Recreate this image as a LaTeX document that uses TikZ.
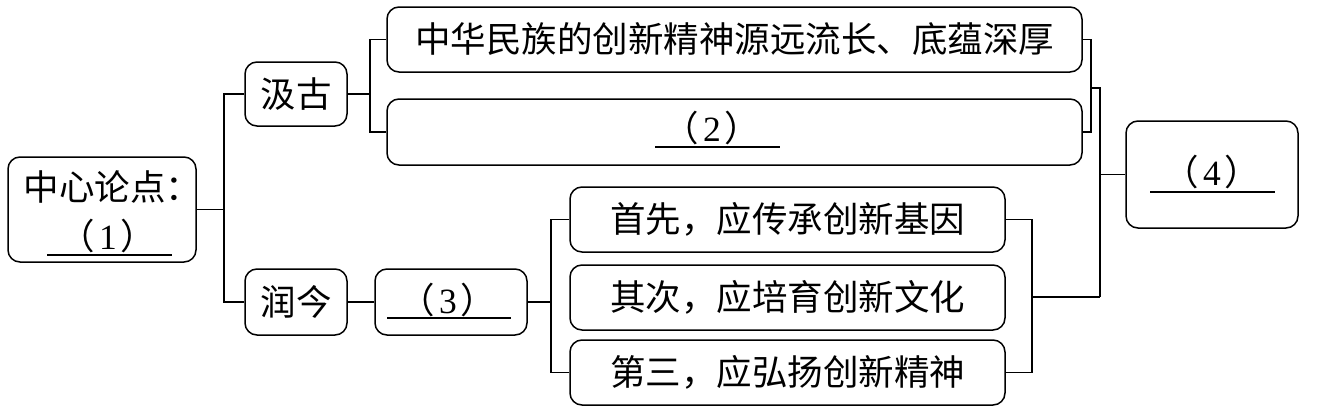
\documentclass[tikz,border=0pt]{standalone}
\usepackage{fontspec}
\setmainfont{Noto Sans CJK SC}
\newfontfamily\numfont{Liberation Serif}
\def \bnum #1{（\hspace{4pt}{\numfont #1}\hspace{4pt}）}

\begin{document}
\begin{tikzpicture}[x=1pt,y=-1pt,
    box/.style={draw, rounded corners=12pt, line width=1.5pt, inner sep=0pt},
    link/.style={line width=1.5pt},
    blank/.style={line width=1.3pt},
    font=\fontsize{35.5}{40}\selectfont]
\useasboundingbox (0,0) rectangle (1317,410);
%\draw [help lines,step=50] (0,0) grid (1317,410);
% boxes
\node [box, minimum width=188pt, minimum height=105pt] (center) at (102,209.5) {};
\node [anchor=west] (ctext) at (20,187) {中心论点：};
\node (c1) at (108,236) {\bnum{1}};
\draw [blank] (47,255)--(172,255);
\node [box, minimum width=102pt, minimum height=64pt] (jigu) at (296,94) {汲古};
\node [box, minimum width=102pt, minimum height=66pt] (runjin) at (296,302) {润今};
\node [box, minimum width=695pt, minimum height=65pt] (top1) at (734.5,39.5) {中华民族的创新精神源远流长、底蕴深厚};
\node [box, minimum width=695pt, minimum height=66pt] (top2) at (734.5,132) {};
\node (c2) at (712,128) {\bnum{2}};
\draw [blank] (655,147)--(780,147);
\node [box, minimum width=152pt, minimum height=66pt] (c3box) at (451,302) {};
\node (c3) at (448,300) {\bnum{3}};
\draw [blank] (387,318)--(511,318);
\node [box, minimum width=435pt, minimum height=65pt] (s1) at (787.5,219.5) {首先，应传承创新基因};
\node [box, minimum width=435pt, minimum height=65pt] (s2) at (787.5,297.5) {其次，应培育创新文化};
\node [box, minimum width=435pt, minimum height=65pt] (s3) at (787.5,372.5) {第三，应弘扬创新精神};
\node [box, minimum width=172pt, minimum height=107pt] (c4box) at (1212,174.5) {};
\node (c4) at (1212,172) {\bnum{4}};
\draw [blank] (1150,192)--(1275,192);
% brackets
\coordinate (b1) at (224,209.5);
\coordinate (b2) at (370,94);
\coordinate (b3) at (551,302);
\coordinate (b4) at (1032,297);
\coordinate (b6) at (1091,88);
\coordinate (b7) at (1100,88);
\coordinate (b5) at (1100,297);
\coordinate (b8) at (1100,174.5);
\draw [link] (center.east)--(b1);
\draw [link] (jigu.west) -| (b1) |- (runjin.west);
\draw [link] (jigu.east)--(b2);
\draw [link] (top1.west) -| (b2) |- (top2.west);
\draw [link] (runjin.east)--(c3box.west);
\draw [link] (c3box.east)--(b3);
\draw [link] (s1.west) -| (b3) |- (s3.west);
\draw [link] (s1.east) -| (b4) |- (s3.east);
\draw [link] (b4)--(b5);
\draw [link] (top1.east) -| (b6) |- (top2.east);
\draw [link] (b6)--(b7)--(b5);
\draw [link] (b8)--(c4box.west);
\end{tikzpicture}
\end{document}
